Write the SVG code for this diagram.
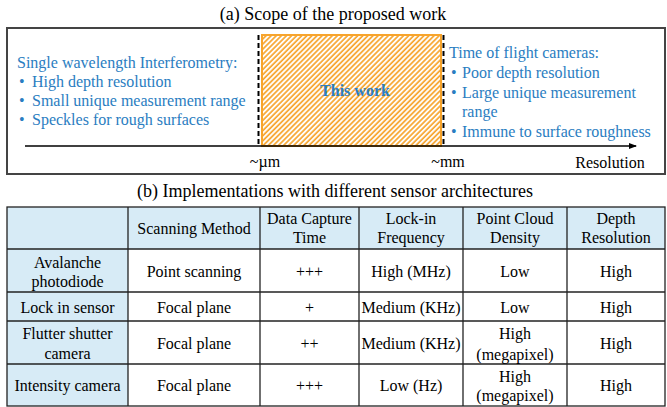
<svg xmlns="http://www.w3.org/2000/svg" width="667" height="407" viewBox="0 0 667 407" font-family="Liberation Serif, serif">
<defs>
<pattern id="hatch" patternUnits="userSpaceOnUse" width="3.6" height="3.6" patternTransform="rotate(45)">
<rect width="3.6" height="3.6" fill="#ffffff"/>
<line x1="1" y1="0" x2="1" y2="3.6" stroke="#F7A42C" stroke-width="1.7"/>
</pattern>
<marker id="arr" markerWidth="8" markerHeight="6" refX="7" refY="3" orient="auto" markerUnits="userSpaceOnUse">
<path d="M0,0 L8,3 L0,6 Z" fill="#000"/>
</marker>
</defs>
<style>
.title{font-size:18px;fill:#000;text-anchor:middle;font-family:"Liberation Serif",serif;}
.blue{font-size:16px;fill:#2A7DC1;font-family:"Liberation Serif",serif;}
.lbl{font-size:16px;fill:#000;text-anchor:middle;font-family:"Liberation Serif",serif;}
.cell{font-size:16px;fill:#000;text-anchor:middle;font-family:"Liberation Serif",serif;}
.hd{fill:#D7EBF6;}
.grid{stroke:#222;stroke-width:1.3;fill:none;}
.dash{stroke:#000;stroke-width:2;stroke-dasharray:5 3;fill:none;}
</style>
<rect width="667" height="407" fill="#fff"/>

<g id="panel-a">
<text class="title" x="333" y="20">(a) Scope of the proposed work</text>
<rect id="frame" x="7" y="28" width="658" height="146" fill="none" stroke="#444" stroke-width="2"/>
<g id="this-work">
<rect x="262" y="35" width="179" height="111" fill="url(#hatch)" stroke="#F7A42C" stroke-width="2"/>
<text class="blue" x="355" y="96" font-weight="bold" text-anchor="middle">This work</text>
</g>
<g id="connectors">
<line class="dash" x1="258.5" y1="35" x2="258.5" y2="146"/>
<line class="dash" x1="443.5" y1="35" x2="443.5" y2="146"/>
<line x1="25" y1="146" x2="636" y2="146" stroke="#000" stroke-width="1.5" marker-end="url(#arr)"/>
</g>
<g id="interferometry">
<text class="blue" x="17" y="68">Single wavelength Interferometry:</text>
<text class="blue" x="19" y="87">•</text><text class="blue" x="32" y="87">High depth resolution</text>
<text class="blue" x="19" y="106">•</text><text class="blue" x="32" y="106">Small unique measurement range</text>
<text class="blue" x="19" y="125">•</text><text class="blue" x="32" y="125">Speckles for rough surfaces</text>
</g>
<g id="tof">
<text class="blue" x="449" y="58">Time of flight cameras:</text>
<text class="blue" x="451" y="78">•</text><text class="blue" x="462" y="78">Poor depth resolution</text>
<text class="blue" x="451" y="98">•</text><text class="blue" x="462" y="98">Large unique measurement</text>
<text class="blue" x="462" y="117">range</text>
<text class="blue" x="451" y="137">•</text><text class="blue" x="462" y="137">Immune to surface roughness</text>
</g>
<g id="axis-labels">
<text class="lbl" x="265" y="167">~µm</text>
<text class="lbl" x="448" y="167">~mm</text>
<text class="lbl" x="610" y="168">Resolution</text>
</g>
</g>

<g id="panel-b">
<text class="title" x="335" y="197">(b) Implementations with different sensor architectures</text>
<g id="table-fill">
<rect class="hd" x="7" y="207" width="658" height="42"/>
<rect class="hd" x="7" y="249" width="121" height="157"/>
</g>
<g id="table-grid">
<rect class="grid" x="7" y="207" width="658" height="199"/>
<line class="grid" x1="7" y1="249" x2="665" y2="249"/>
<line class="grid" x1="7" y1="292" x2="665" y2="292"/>
<line class="grid" x1="7" y1="321" x2="665" y2="321"/>
<line class="grid" x1="7" y1="364" x2="665" y2="364"/>
<line class="grid" x1="128" y1="207" x2="128" y2="406"/>
<line class="grid" x1="260" y1="207" x2="260" y2="406"/>
<line class="grid" x1="359" y1="207" x2="359" y2="406"/>
<line class="grid" x1="463" y1="207" x2="463" y2="406"/>
<line class="grid" x1="567" y1="207" x2="567" y2="406"/>
</g>
<g id="header">
<text class="cell" x="194" y="234">Scanning Method</text>
<text class="cell" x="309.5" y="224">Data Capture</text><text class="cell" x="309.5" y="243">Time</text>
<text class="cell" x="411" y="224">Lock-in</text><text class="cell" x="411" y="243">Frequency</text>
<text class="cell" x="515" y="224">Point Cloud</text><text class="cell" x="515" y="243">Density</text>
<text class="cell" x="616" y="224">Depth</text><text class="cell" x="616" y="243">Resolution</text>
</g>
<g id="row-apd">
<text class="cell" x="67.5" y="268">Avalanche</text><text class="cell" x="67.5" y="287">photodiode</text>
<text class="cell" x="194" y="277">Point scanning</text>
<text class="cell" x="309.5" y="277">+++</text>
<text class="cell" x="411" y="277">High (MHz)</text>
<text class="cell" x="515" y="277">Low</text>
<text class="cell" x="616" y="277">High</text>
</g>
<g id="row-lockin">
<text class="cell" x="67.5" y="313">Lock in sensor</text>
<text class="cell" x="194" y="313">Focal plane</text>
<text class="cell" x="309.5" y="313">+</text>
<text class="cell" x="411" y="313">Medium (KHz)</text>
<text class="cell" x="515" y="313">Low</text>
<text class="cell" x="616" y="313">High</text>
</g>
<g id="row-flutter">
<text class="cell" x="67.5" y="339">Flutter shutter</text><text class="cell" x="67.5" y="359">camera</text>
<text class="cell" x="194" y="349">Focal plane</text>
<text class="cell" x="309.5" y="349">++</text>
<text class="cell" x="411" y="349">Medium (KHz)</text>
<text class="cell" x="515" y="339">High</text><text class="cell" x="515" y="360">(megapixel)</text>
<text class="cell" x="616" y="349">High</text>
</g>
<g id="row-intensity">
<text class="cell" x="67.5" y="391">Intensity camera</text>
<text class="cell" x="194" y="391">Focal plane</text>
<text class="cell" x="309.5" y="391">+++</text>
<text class="cell" x="411" y="391">Low (Hz)</text>
<text class="cell" x="515" y="382">High</text><text class="cell" x="515" y="401">(megapixel)</text>
<text class="cell" x="616" y="391">High</text>
</g>
</g>
</svg>
